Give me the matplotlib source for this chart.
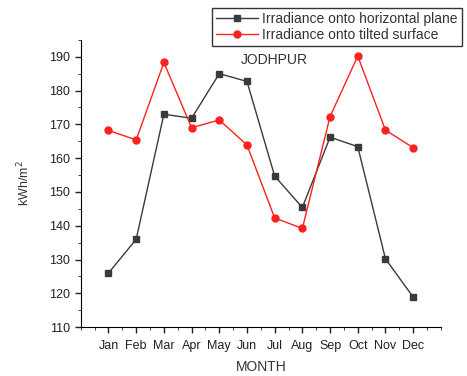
import matplotlib
matplotlib.use('Agg')
import matplotlib.pyplot as plt
from matplotlib.ticker import MultipleLocator

plt.rcParams['font.family'] = ['Liberation Sans', 'DejaVu Sans']

months = ['Jan', 'Feb', 'Mar', 'Apr', 'May', 'Jun', 'Jul', 'Aug', 'Sep', 'Oct', 'Nov', 'Dec']
horizontal = [126.0, 136.0, 173.0, 171.8, 185.0, 182.7, 154.7, 145.4, 166.2, 163.4, 130.2, 118.9]
tilted = [168.2, 165.4, 188.3, 169.0, 171.3, 163.9, 142.3, 139.2, 172.3, 190.2, 168.3, 163.1]

x = list(range(1, len(months) + 1))

fig = plt.figure(figsize=(4.67, 3.76), dpi=100)
ax = fig.add_axes([0.173, 0.130, 0.771, 0.764])

ax.plot(x, horizontal, color='#3a3a3a', marker='s', markersize=5, linewidth=1,
        label='Irradiance onto horizontal plane')
ax.plot(x, tilted, color='#ff2020', marker='o', markersize=5, linewidth=1,
        label='Irradiance onto tilted surface')

ax.set_xlim(0, 13)
ax.set_ylim(110, 195)
ax.set_xticks(x)
ax.set_xticklabels(months)
ax.xaxis.set_minor_locator(MultipleLocator(0.5))
ax.yaxis.set_major_locator(MultipleLocator(10))
ax.yaxis.set_minor_locator(MultipleLocator(5))

ax.spines['top'].set_visible(False)
ax.spines['right'].set_visible(False)
ax.tick_params(which='both', direction='out', labelsize=9, colors='#222222')
ax.tick_params(which='major', length=4, width=1)
ax.tick_params(which='minor', length=2)
ax.tick_params(axis='x', pad=5)

ax.set_xlabel('MONTH', fontsize=10, color='#333333', labelpad=6)
ax.set_ylabel('kWh/m$^2$', fontsize=9, color='#333333', labelpad=12)
ax.text(7.0, 189, 'JODHPUR', fontsize=10, color='#333333', ha='center', va='center')

leg = ax.legend(loc='upper right', bbox_to_anchor=(1.058, 1.111), borderaxespad=0,
                fontsize=10, frameon=True, fancybox=False, edgecolor='black',
                borderpad=0.3, handlelength=3.0, handletextpad=0.3, labelspacing=0.1)
leg.get_frame().set_linewidth(1)
for t in leg.get_texts():
    t.set_color('#333333')

plt.savefig('out.png', dpi=100)
